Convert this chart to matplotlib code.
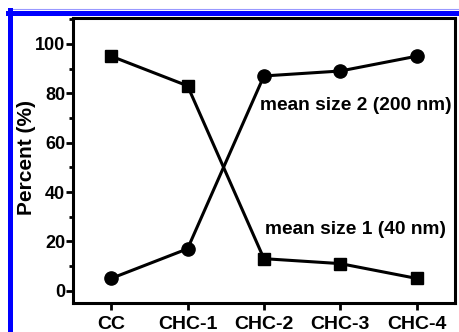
import numpy as np
import matplotlib
matplotlib.use("Agg")
import matplotlib.pyplot as plt
from matplotlib.lines import Line2D
from matplotlib.ticker import MultipleLocator

# data
samples = ["CC", "CHC-1", "CHC-2", "CHC-3", "CHC-4"]
size1 = [95, 83, 13, 11, 5]    # mean size 1 (40 nm), squares
size2 = [5, 17, 87, 89, 95]    # mean size 2 (200 nm), circles

plt.rcParams['font.family'] = ['Liberation Sans', 'DejaVu Sans']
plt.rcParams['font.weight'] = 'bold'

fig = plt.figure(figsize=(4.59, 3.32), dpi=100)
ax = fig.add_axes([0.159, 0.087, 0.832, 0.859])

x = np.arange(len(samples))
ax.plot(x, size1, color='black', lw=2.2, marker='s', ms=8.5)
ax.plot(x, size2, color='black', lw=2.2, marker='o', ms=9.5)

ax.set_xlim(-0.5, 4.5)
ax.set_ylim(-5, 110.5)
ax.set_xticks(x)
ax.set_xticklabels(samples, fontsize=14, fontweight='bold')
ax.yaxis.set_major_locator(MultipleLocator(20))
ax.yaxis.set_minor_locator(MultipleLocator(10))
ax.tick_params(axis='y', which='major', length=5, width=2, labelsize=13, pad=0.5)
ax.tick_params(axis='y', which='minor', length=3, width=2)
ax.tick_params(axis='x', which='major', length=5, width=2, labelsize=14, pad=4)
for t in ax.get_yticklabels():
    t.set_fontweight('bold')
for s in ax.spines.values():
    s.set_linewidth(2.2)
ax.set_ylabel('Percent (%)', fontsize=15, fontweight='bold')
ax.yaxis.set_label_coords(-0.098, 0.51)

ax.text(1.95, 75, 'mean size 2 (200 nm)', fontsize=13.8, fontweight='bold', va='center')
ax.text(2.02, 25, 'mean size 1 (40 nm)', fontsize=13.8, fontweight='bold', va='center')

# blue frame on top and left of the figure
W, H = 459, 332
fig.add_artist(Line2D([8 / W, 1], [1 - 9 / H, 1 - 9 / H], color='#9999ff', lw=0.8))
fig.add_artist(Line2D([8 / W, 1], [1 - 12.5 / H, 1 - 12.5 / H], color='blue', lw=3.6))
fig.add_artist(Line2D([9.5 / W, 9.5 / W], [0, 1 - 10 / H], color='blue', lw=3.6))

fig.savefig('out.png', dpi=100)
